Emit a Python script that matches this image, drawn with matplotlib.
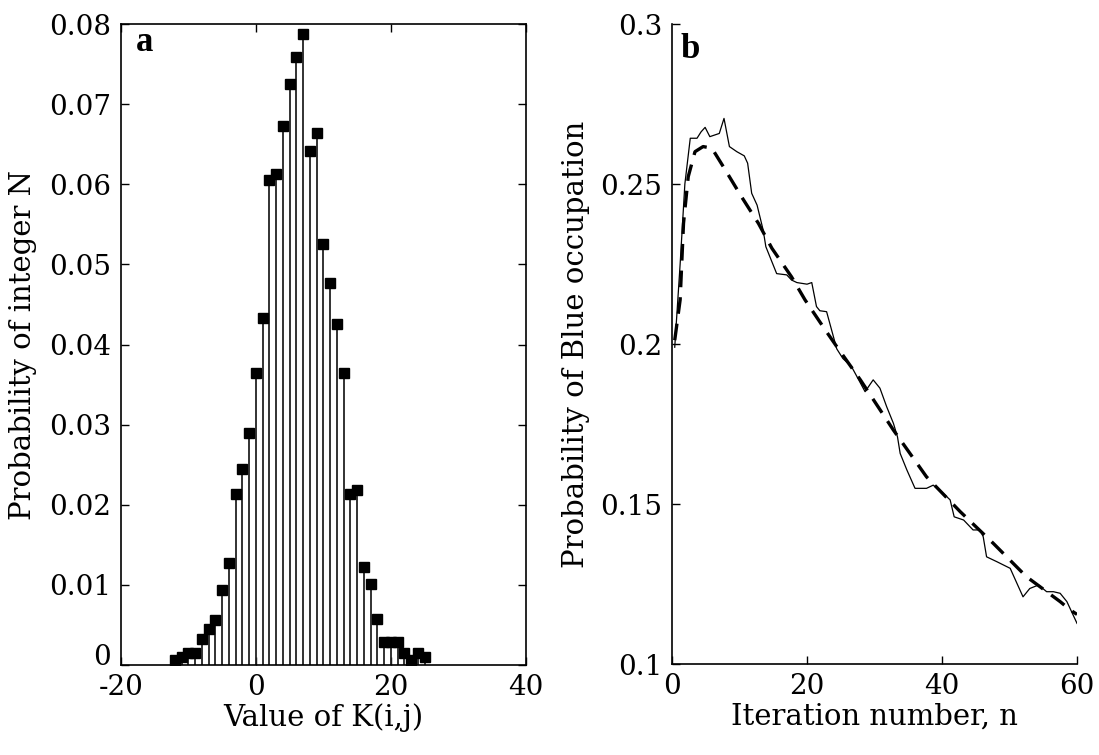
import numpy as np
import matplotlib
matplotlib.use("Agg")
import matplotlib.pyplot as plt

plt.rcParams["font.family"] = ["DejaVu Serif"]

# -------------------------------------------------
# Panel a: distribution of K(i,j)
# -------------------------------------------------
k_values = list(range(-12, 26))
k_prob = [0.0006, 0.0010, 0.0015, 0.0015, 0.0033, 0.0045, 0.0056, 0.0094,
          0.0127, 0.0213, 0.0245, 0.0290, 0.0365, 0.0433, 0.0605, 0.0613,
          0.0673, 0.0725, 0.0759, 0.0788, 0.0641, 0.0664, 0.0526, 0.0477,
          0.0426, 0.0365, 0.0213, 0.0218, 0.0122, 0.0101, 0.0057, 0.0029,
          0.0029, 0.0029, 0.0015, 0.0006, 0.0015, 0.0010]

a_xticks = [-20, 0, 20, 40]
a_yticks = [0, 0.01, 0.02, 0.03, 0.04, 0.05, 0.06, 0.07, 0.08]
a_yticklabels = ["0", "0.01", "0.02", "0.03", "0.04", "0.05", "0.06", "0.07", "0.08"]

# -------------------------------------------------
# Panel b: probability of Blue occupation
# -------------------------------------------------
sim_n = [0.4, 1.2, 1.9, 2.7, 3.7, 4.3, 4.9, 5.6, 7.0, 7.7, 8.5, 9.6, 10.7,
         11.2, 11.8, 12.6, 13.5, 13.9, 15.5, 17.0, 17.7, 18.5, 20.0, 20.7,
         21.4, 21.9, 22.9, 24.4, 25.3, 26.6, 27.4, 28.6, 29.8, 30.8, 31.8,
         32.8, 33.4, 33.8, 34.8, 36.0, 37.7, 38.7, 40.2, 41.2, 41.8, 43.2,
         44.6, 45.6, 46.1, 46.6, 48.1, 50.1, 51.1, 52.0, 53.0, 54.3, 55.5,
         56.5, 57.5, 58.5, 60.0]
sim_p = [0.199, 0.225, 0.250, 0.2643, 0.2643, 0.2663, 0.2677, 0.2648,
         0.2658, 0.2705, 0.2617, 0.2601, 0.2588, 0.2565, 0.2471, 0.2434,
         0.2356, 0.2304, 0.2220, 0.2216, 0.2200, 0.2192, 0.2187, 0.2192,
         0.2117, 0.2104, 0.2101, 0.1985, 0.1955, 0.1929, 0.1898, 0.1851,
         0.1888, 0.1862, 0.1804, 0.1752, 0.1710, 0.1658, 0.1606, 0.1549,
         0.1549, 0.1559, 0.1533, 0.1513, 0.1460, 0.1450, 0.1419, 0.1419,
         0.1398, 0.1335, 0.1320, 0.1299, 0.1252, 0.1210, 0.1236, 0.1247,
         0.1226, 0.1226, 0.1221, 0.1195, 0.1127]

theory_n = [0.4, 1.2, 1.7, 2.4, 3.4, 4.6, 5.9, 7.6, 10.3, 12.8, 14.8, 17.7,
            19.7, 22.7, 24.4, 27.9, 32.8, 37.7, 42.7, 47.6, 52.5, 57.5, 59.0,
            60.0]
theory_p = [0.2012, 0.2138, 0.2377, 0.2523, 0.2601, 0.2617, 0.2612, 0.2554,
            0.2460, 0.2377, 0.2299, 0.2210, 0.2138, 0.2044, 0.1992, 0.1888,
            0.1731, 0.1585, 0.1476, 0.1377, 0.1273, 0.1195, 0.1169, 0.1155]

b_xticks = [0, 20, 40, 60]
b_yticks = [0.1, 0.15, 0.2, 0.25, 0.3]
b_yticklabels = ["0.1", "0.15", "0.2", "0.25", "0.3"]

TICK_FS = 20
LABEL_FS = 21
PANEL_FS = 25

fig = plt.figure(figsize=(10.99, 7.55), dpi=100)
ax_a = fig.add_axes([0.1101, 0.1192, 0.3685, 0.8490])
ax_b = fig.add_axes([0.6115, 0.1205, 0.3685, 0.8477])


def style_axes(ax, xticks, yticks, yticklabels, box):
    ax.set_xticks(xticks)
    ax.set_xticklabels([str(t) for t in xticks])
    ax.set_yticks(yticks)
    ax.set_yticklabels(yticklabels)
    ax.tick_params(direction="in", top=box, right=box, length=6, width=1,
                   labelsize=TICK_FS)
    ax.tick_params(axis="x", pad=6.5)
    ax.tick_params(axis="y", pad=7)
    if not box:
        ax.spines["top"].set_visible(False)
        ax.spines["right"].set_visible(False)
    for sp in ax.spines.values():
        sp.set_linewidth(1.2)


# --- panel a ---
ax_a.vlines(k_values, 0, k_prob, color="#222222", lw=1.3)
ax_a.plot(k_values, k_prob, "s", color="black", ms=6.5)
ax_a.set_xlim(-20, 40)
ax_a.set_ylim(0, 0.08)
style_axes(ax_a, a_xticks, a_yticks, a_yticklabels, box=True)
# the "0" label sits just above the -20 label, as in the original
ax_a.get_yticklabels()[0].set_verticalalignment("baseline")
ax_a.set_xlabel("Value of K(i,j)", fontsize=LABEL_FS)
ax_a.xaxis.set_label_coords(0.5, -0.060)
ax_a.set_ylabel("Probability of integer N", fontsize=LABEL_FS)
ax_a.yaxis.set_label_coords(-0.207, 0.5)
ax_a.text(0.037, 0.958, "a", transform=ax_a.transAxes, fontsize=PANEL_FS,
          family="Liberation Serif", fontweight="bold", va="baseline", ha="left")

# --- panel b ---
ax_b.plot(sim_n, sim_p, color="black", lw=0.9)
ax_b.plot(theory_n, theory_p, color="black", lw=2.4, dashes=(5, 3))
ax_b.set_xlim(0, 60)
ax_b.set_ylim(0.1, 0.3)
style_axes(ax_b, b_xticks, b_yticks, b_yticklabels, box=False)
ax_b.set_xlabel("Iteration number, n", fontsize=LABEL_FS)
ax_b.xaxis.set_label_coords(0.5, -0.060)
ax_b.set_ylabel("Probability of Blue occupation", fontsize=LABEL_FS)
ax_b.yaxis.set_label_coords(-0.2025, 0.5)
ax_b.text(0.022, 0.947, "b", transform=ax_b.transAxes, fontsize=PANEL_FS,
          family="Liberation Serif", fontweight="bold", va="baseline", ha="left")

fig.savefig("out.png", dpi=100)
